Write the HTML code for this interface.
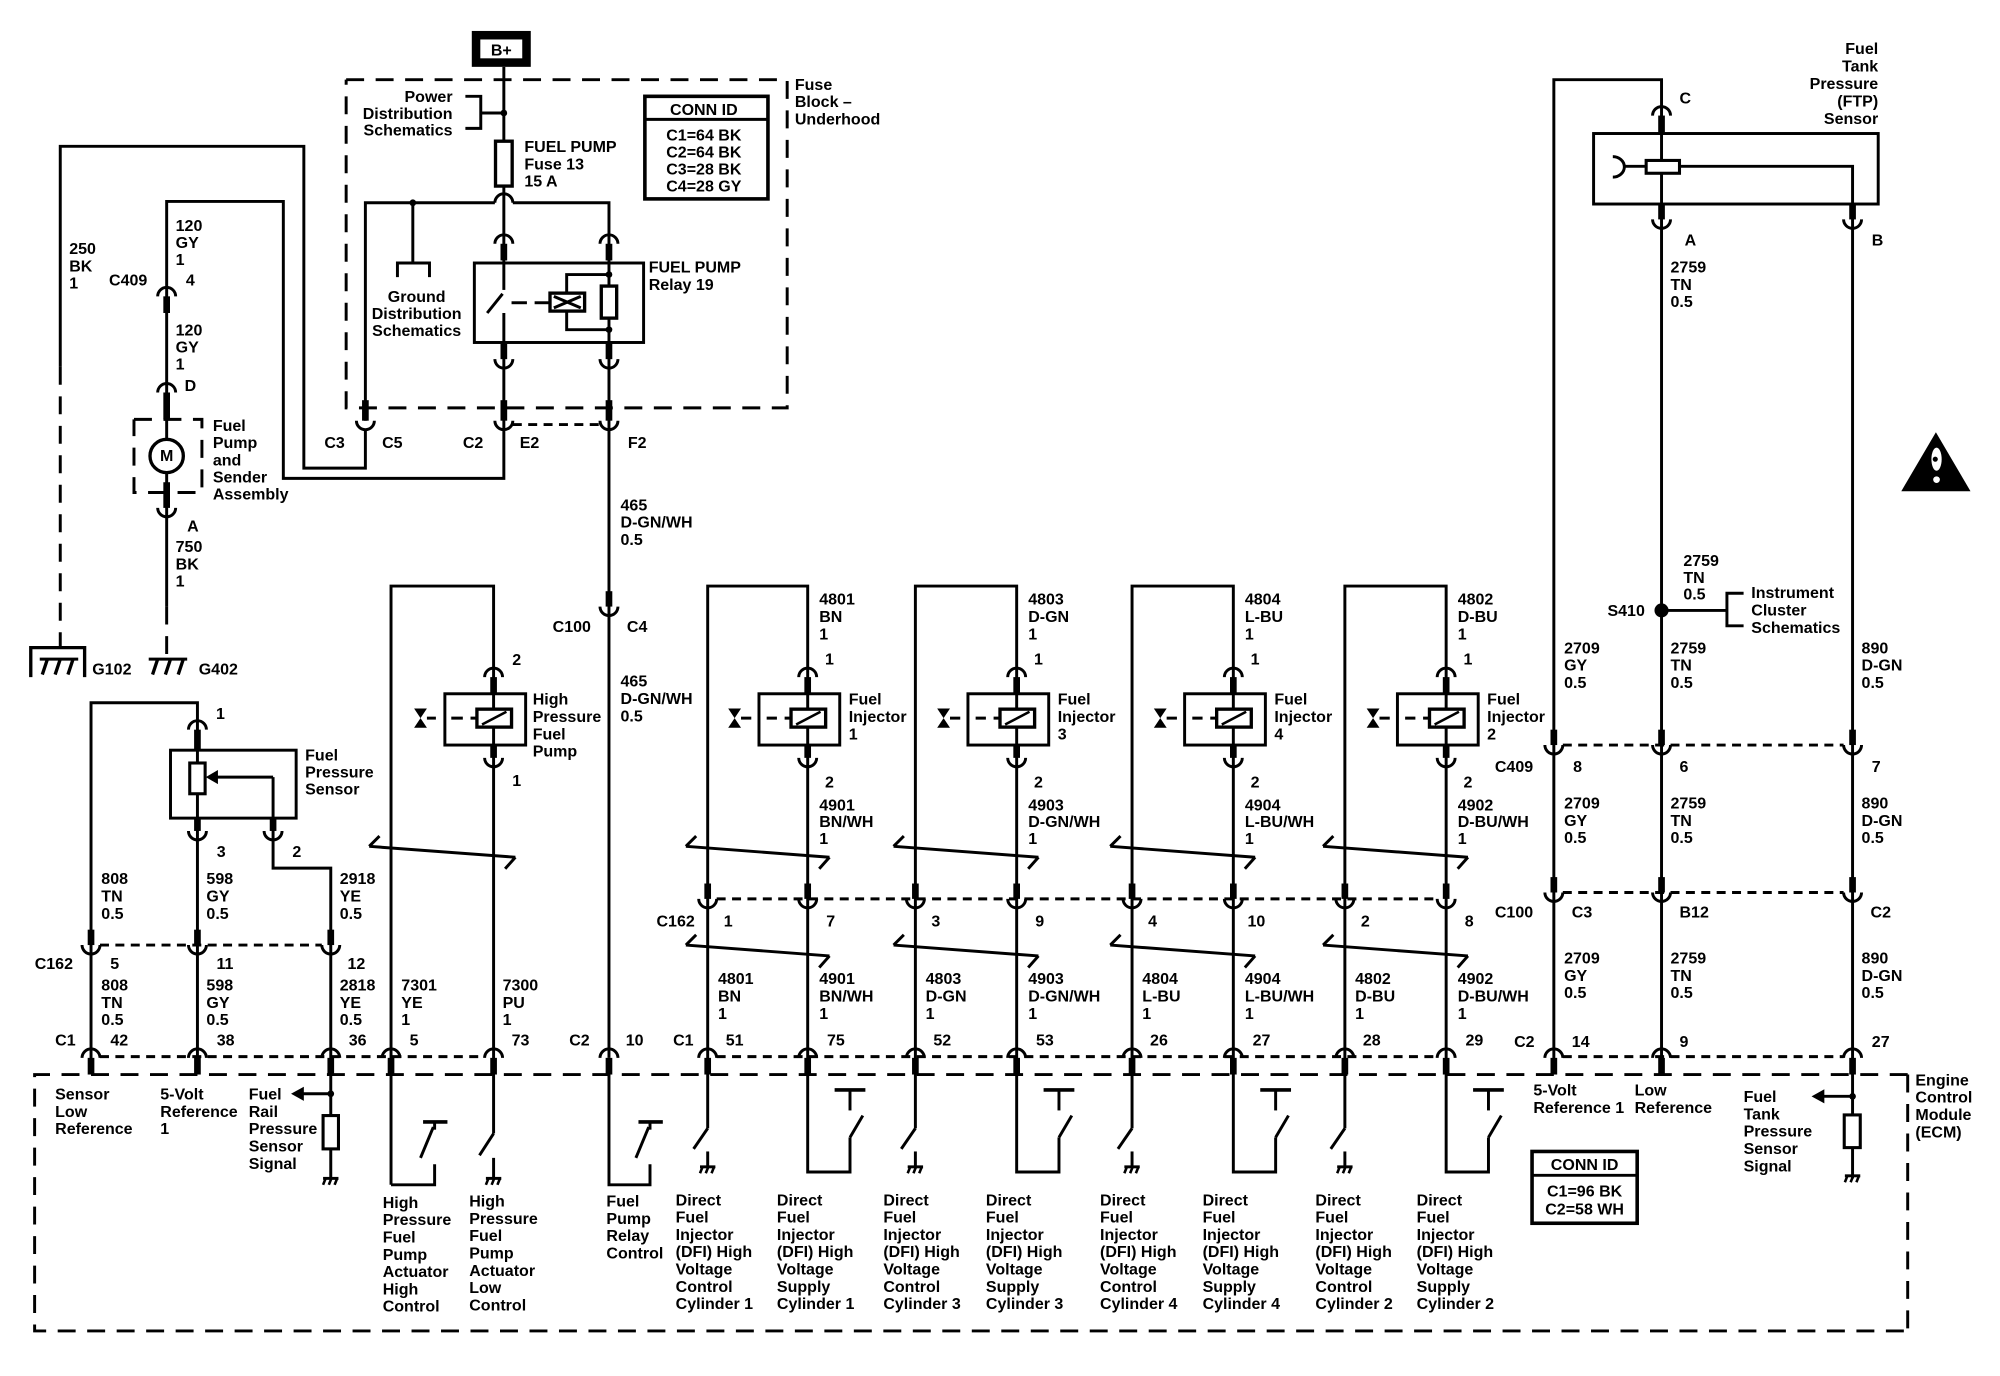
<!DOCTYPE html>
<html><head><meta charset="utf-8"><style>
html,body{margin:0;padding:0;background:#fff}
svg{display:block}
text{font-family:"Liberation Sans",Arial,sans-serif;font-size:12.5px;font-weight:bold;fill:#000}
.m{text-anchor:middle}.e{text-anchor:end}
</style></head><body>
<svg id="svg" width="2000" height="1376" viewBox="0 0 1560 1073" xmlns="http://www.w3.org/2000/svg">
<rect width="1560" height="1073" fill="#fff"/>
<g id="s" fill="none" stroke="#000" stroke-width="2.3" stroke-linejoin="miter"></g>
<g id="t">
<text x="391" y="43" class="m" font-size="13">B+</text>
<text x="353" y="79.5" class="e"><tspan x="353">Power</tspan><tspan x="353" dy="13">Distribution</tspan><tspan x="353" dy="13">Schematics</tspan></text>
<text x="409" y="118.5"><tspan x="409">FUEL PUMP</tspan><tspan x="409" dy="13.5">Fuse 13</tspan><tspan x="409" dy="13.5">15 A</tspan></text>
<text x="549" y="89.5" class="m">CONN ID</text>
<text x="549" y="109.5" class="m"><tspan x="549">C1=64 BK</tspan><tspan x="549" dy="13.2">C2=64 BK</tspan><tspan x="549" dy="13.2">C3=28 BK</tspan><tspan x="549" dy="13.2">C4=28 GY</tspan></text>
<text x="620" y="70"><tspan x="620">Fuse</tspan><tspan x="620" dy="13.5">Block –</tspan><tspan x="620" dy="13.5">Underhood</tspan></text>
<text x="506" y="212.5"><tspan x="506">FUEL PUMP</tspan><tspan x="506" dy="13.5">Relay 19</tspan></text>
<text x="325" y="235.5" class="m"><tspan x="325">Ground</tspan><tspan x="325" dy="13.3">Distribution</tspan><tspan x="325" dy="13.3">Schematics</tspan></text>
<text x="261" y="349.5" class="m">C3</text><text x="306" y="349.5" class="m">C5</text>
<text x="369" y="349.5" class="m">C2</text><text x="413" y="349.5" class="m">E2</text>
<text x="497" y="349.5" class="m">F2</text>
<text x="54" y="198"><tspan x="54">250</tspan><tspan x="54" dy="13.5">BK</tspan><tspan x="54" dy="13.5">1</tspan></text>
<text x="137" y="180"><tspan x="137">120</tspan><tspan x="137" dy="13.3">GY</tspan><tspan x="137" dy="13.3">1</tspan></text>
<text x="100" y="222.5" class="m">C409</text><text x="145" y="222.5">4</text>
<text x="137" y="261.5"><tspan x="137">120</tspan><tspan x="137" dy="13.3">GY</tspan><tspan x="137" dy="13.3">1</tspan></text>
<text x="144" y="305">D</text>
<text x="166" y="336"><tspan x="166">Fuel</tspan><tspan x="166" dy="13.4">Pump</tspan><tspan x="166" dy="13.4">and</tspan><tspan x="166" dy="13.4">Sender</tspan><tspan x="166" dy="13.4">Assembly</tspan></text>
<text x="130" y="359.5" class="m" font-size="12">M</text>
<text x="146" y="414.5">A</text>
<text x="137" y="430.5"><tspan x="137">750</tspan><tspan x="137" dy="13.5">BK</tspan><tspan x="137" dy="13.5">1</tspan></text>
<text x="72" y="526">G102</text><text x="155" y="526">G402</text>
<text x="484" y="398"><tspan x="484">465</tspan><tspan x="484" dy="13.5">D-GN/WH</tspan><tspan x="484" dy="13.5">0.5</tspan></text>
<text x="446" y="493" class="m">C100</text><text x="497" y="493" class="m">C4</text>
<text x="484" y="535.5"><tspan x="484">465</tspan><tspan x="484" dy="13.5">D-GN/WH</tspan><tspan x="484" dy="13.5">0.5</tspan></text>
<text x="172" y="560.5" class="m">1</text>
<text x="238" y="593"><tspan x="238">Fuel</tspan><tspan x="238" dy="13.3">Pressure</tspan><tspan x="238" dy="13.3">Sensor</tspan></text>
<text x="172.5" y="668.5" class="m">3</text><text x="231.5" y="668.5" class="m">2</text>
<text x="79" y="689.5"><tspan x="79">808</tspan><tspan x="79" dy="13.5">TN</tspan><tspan x="79" dy="13.5">0.5</tspan></text>
<text x="161" y="689.5"><tspan x="161">598</tspan><tspan x="161" dy="13.5">GY</tspan><tspan x="161" dy="13.5">0.5</tspan></text>
<text x="265" y="689.5"><tspan x="265">2918</tspan><tspan x="265" dy="13.5">YE</tspan><tspan x="265" dy="13.5">0.5</tspan></text>
<text x="42" y="755.5" class="m">C162</text><text x="89.5" y="755.5" class="m">5</text><text x="175.5" y="755.5" class="m">11</text><text x="278" y="755.5" class="m">12</text>
<text x="79" y="772.5"><tspan x="79">808</tspan><tspan x="79" dy="13.5">TN</tspan><tspan x="79" dy="13.5">0.5</tspan></text>
<text x="161" y="772.5"><tspan x="161">598</tspan><tspan x="161" dy="13.5">GY</tspan><tspan x="161" dy="13.5">0.5</tspan></text>
<text x="265" y="772.5"><tspan x="265">2818</tspan><tspan x="265" dy="13.5">YE</tspan><tspan x="265" dy="13.5">0.5</tspan></text>
<text x="313" y="772.5"><tspan x="313">7301</tspan><tspan x="313" dy="13.5">YE</tspan><tspan x="313" dy="13.5">1</tspan></text>
<text x="392" y="772.5"><tspan x="392">7300</tspan><tspan x="392" dy="13.5">PU</tspan><tspan x="392" dy="13.5">1</tspan></text>
<text x="51" y="815.5" class="m">C1</text><text x="93" y="815.5" class="m">42</text><text x="176" y="815.5" class="m">38</text><text x="279" y="815.5" class="m">36</text><text x="323" y="815.5" class="m">5</text><text x="406" y="815.5" class="m">73</text><text x="452" y="815.5" class="m">C2</text><text x="495" y="815.5" class="m">10</text>
<text x="403" y="518.5" class="m">2</text><text x="403" y="613" class="m">1</text>
<text x="415.5" y="549.5"><tspan x="415.5">High</tspan><tspan x="415.5" dy="13.5">Pressure</tspan><tspan x="415.5" dy="13.5">Fuel</tspan><tspan x="415.5" dy="13.5">Pump</tspan></text>

<text x="639" y="471.5"><tspan x="639">4801</tspan><tspan x="639" dy="13.5">BN</tspan><tspan x="639" dy="13.5">1</tspan></text>
<text x="647" y="518" class="m">1</text><text x="647" y="614" class="m">2</text>
<text x="662" y="549.5"><tspan x="662">Fuel</tspan><tspan x="662" dy="13.5">Injector</tspan><tspan x="662" dy="13.5">1</tspan></text>
<text x="639" y="632"><tspan x="639">4901</tspan><tspan x="639" dy="13">BN/WH</tspan><tspan x="639" dy="13">1</tspan></text>
<text x="568" y="722.5" class="m">1</text><text x="648" y="722.5" class="m">7</text>
<text x="560" y="767.5"><tspan x="560">4801</tspan><tspan x="560" dy="13.5">BN</tspan><tspan x="560" dy="13.5">1</tspan></text>
<text x="639" y="767.5"><tspan x="639">4901</tspan><tspan x="639" dy="13.5">BN/WH</tspan><tspan x="639" dy="13.5">1</tspan></text>
<text x="533" y="815.5" class="m">C1</text><text x="573" y="815.5" class="m">51</text><text x="652" y="815.5" class="m">75</text>
<text x="527" y="722.5" class="m">C162</text>
<text x="802" y="471.5"><tspan x="802">4803</tspan><tspan x="802" dy="13.5">D-GN</tspan><tspan x="802" dy="13.5">1</tspan></text>
<text x="810" y="518" class="m">1</text><text x="810" y="614" class="m">2</text>
<text x="825" y="549.5"><tspan x="825">Fuel</tspan><tspan x="825" dy="13.5">Injector</tspan><tspan x="825" dy="13.5">3</tspan></text>
<text x="802" y="632"><tspan x="802">4903</tspan><tspan x="802" dy="13">D-GN/WH</tspan><tspan x="802" dy="13">1</tspan></text>
<text x="730" y="722.5" class="m">3</text><text x="811" y="722.5" class="m">9</text>
<text x="722" y="767.5"><tspan x="722">4803</tspan><tspan x="722" dy="13.5">D-GN</tspan><tspan x="722" dy="13.5">1</tspan></text>
<text x="802" y="767.5"><tspan x="802">4903</tspan><tspan x="802" dy="13.5">D-GN/WH</tspan><tspan x="802" dy="13.5">1</tspan></text>
<text x="735" y="815.5" class="m">52</text><text x="815" y="815.5" class="m">53</text>
<text x="971" y="471.5"><tspan x="971">4804</tspan><tspan x="971" dy="13.5">L-BU</tspan><tspan x="971" dy="13.5">1</tspan></text>
<text x="979" y="518" class="m">1</text><text x="979" y="614" class="m">2</text>
<text x="994" y="549.5"><tspan x="994">Fuel</tspan><tspan x="994" dy="13.5">Injector</tspan><tspan x="994" dy="13.5">4</tspan></text>
<text x="971" y="632"><tspan x="971">4904</tspan><tspan x="971" dy="13">L-BU/WH</tspan><tspan x="971" dy="13">1</tspan></text>
<text x="899" y="722.5" class="m">4</text><text x="980" y="722.5" class="m">10</text>
<text x="891" y="767.5"><tspan x="891">4804</tspan><tspan x="891" dy="13.5">L-BU</tspan><tspan x="891" dy="13.5">1</tspan></text>
<text x="971" y="767.5"><tspan x="971">4904</tspan><tspan x="971" dy="13.5">L-BU/WH</tspan><tspan x="971" dy="13.5">1</tspan></text>
<text x="904" y="815.5" class="m">26</text><text x="984" y="815.5" class="m">27</text>
<text x="1137" y="471.5"><tspan x="1137">4802</tspan><tspan x="1137" dy="13.5">D-BU</tspan><tspan x="1137" dy="13.5">1</tspan></text>
<text x="1145" y="518" class="m">1</text><text x="1145" y="614" class="m">2</text>
<text x="1160" y="549.5"><tspan x="1160">Fuel</tspan><tspan x="1160" dy="13.5">Injector</tspan><tspan x="1160" dy="13.5">2</tspan></text>
<text x="1137" y="632"><tspan x="1137">4902</tspan><tspan x="1137" dy="13">D-BU/WH</tspan><tspan x="1137" dy="13">1</tspan></text>
<text x="1065" y="722.5" class="m">2</text><text x="1146" y="722.5" class="m">8</text>
<text x="1057" y="767.5"><tspan x="1057">4802</tspan><tspan x="1057" dy="13.5">D-BU</tspan><tspan x="1057" dy="13.5">1</tspan></text>
<text x="1137" y="767.5"><tspan x="1137">4902</tspan><tspan x="1137" dy="13.5">D-BU/WH</tspan><tspan x="1137" dy="13.5">1</tspan></text>
<text x="1070" y="815.5" class="m">28</text><text x="1150" y="815.5" class="m">29</text>

<text x="43" y="857.5"><tspan x="43">Sensor</tspan><tspan x="43" dy="13.5">Low</tspan><tspan x="43" dy="13.5">Reference</tspan></text>
<text x="125" y="857.5"><tspan x="125">5-Volt</tspan><tspan x="125" dy="13.5">Reference</tspan><tspan x="125" dy="13.5">1</tspan></text>
<text x="194" y="857.5"><tspan x="194">Fuel</tspan><tspan x="194" dy="13.5">Rail</tspan><tspan x="194" dy="13.5">Pressure</tspan><tspan x="194" dy="13.5">Sensor</tspan><tspan x="194" dy="13.5">Signal</tspan></text>
<text x="298.5" y="942"><tspan x="298.5">High</tspan><tspan x="298.5" dy="13.5">Pressure</tspan><tspan x="298.5" dy="13.5">Fuel</tspan><tspan x="298.5" dy="13.5">Pump</tspan><tspan x="298.5" dy="13.5">Actuator</tspan><tspan x="298.5" dy="13.5">High</tspan><tspan x="298.5" dy="13.5">Control</tspan></text>
<text x="366" y="941"><tspan x="366">High</tspan><tspan x="366" dy="13.5">Pressure</tspan><tspan x="366" dy="13.5">Fuel</tspan><tspan x="366" dy="13.5">Pump</tspan><tspan x="366" dy="13.5">Actuator</tspan><tspan x="366" dy="13.5">Low</tspan><tspan x="366" dy="13.5">Control</tspan></text>
<text x="473" y="941"><tspan x="473">Fuel</tspan><tspan x="473" dy="13.5">Pump</tspan><tspan x="473" dy="13.5">Relay</tspan><tspan x="473" dy="13.5">Control</tspan></text>
<text x="527" y="940"><tspan x="527">Direct</tspan><tspan x="527" dy="13.5">Fuel</tspan><tspan x="527" dy="13.5">Injector</tspan><tspan x="527" dy="13.5">(DFI) High</tspan><tspan x="527" dy="13.5">Voltage</tspan><tspan x="527" dy="13.5">Control</tspan><tspan x="527" dy="13.5">Cylinder 1</tspan></text>
<text x="606" y="940"><tspan x="606">Direct</tspan><tspan x="606" dy="13.5">Fuel</tspan><tspan x="606" dy="13.5">Injector</tspan><tspan x="606" dy="13.5">(DFI) High</tspan><tspan x="606" dy="13.5">Voltage</tspan><tspan x="606" dy="13.5">Supply</tspan><tspan x="606" dy="13.5">Cylinder 1</tspan></text>
<text x="689" y="940"><tspan x="689">Direct</tspan><tspan x="689" dy="13.5">Fuel</tspan><tspan x="689" dy="13.5">Injector</tspan><tspan x="689" dy="13.5">(DFI) High</tspan><tspan x="689" dy="13.5">Voltage</tspan><tspan x="689" dy="13.5">Control</tspan><tspan x="689" dy="13.5">Cylinder 3</tspan></text>
<text x="769" y="940"><tspan x="769">Direct</tspan><tspan x="769" dy="13.5">Fuel</tspan><tspan x="769" dy="13.5">Injector</tspan><tspan x="769" dy="13.5">(DFI) High</tspan><tspan x="769" dy="13.5">Voltage</tspan><tspan x="769" dy="13.5">Supply</tspan><tspan x="769" dy="13.5">Cylinder 3</tspan></text>
<text x="858" y="940"><tspan x="858">Direct</tspan><tspan x="858" dy="13.5">Fuel</tspan><tspan x="858" dy="13.5">Injector</tspan><tspan x="858" dy="13.5">(DFI) High</tspan><tspan x="858" dy="13.5">Voltage</tspan><tspan x="858" dy="13.5">Control</tspan><tspan x="858" dy="13.5">Cylinder 4</tspan></text>
<text x="938" y="940"><tspan x="938">Direct</tspan><tspan x="938" dy="13.5">Fuel</tspan><tspan x="938" dy="13.5">Injector</tspan><tspan x="938" dy="13.5">(DFI) High</tspan><tspan x="938" dy="13.5">Voltage</tspan><tspan x="938" dy="13.5">Supply</tspan><tspan x="938" dy="13.5">Cylinder 4</tspan></text>
<text x="1026" y="940"><tspan x="1026">Direct</tspan><tspan x="1026" dy="13.5">Fuel</tspan><tspan x="1026" dy="13.5">Injector</tspan><tspan x="1026" dy="13.5">(DFI) High</tspan><tspan x="1026" dy="13.5">Voltage</tspan><tspan x="1026" dy="13.5">Control</tspan><tspan x="1026" dy="13.5">Cylinder 2</tspan></text>
<text x="1105" y="940"><tspan x="1105">Direct</tspan><tspan x="1105" dy="13.5">Fuel</tspan><tspan x="1105" dy="13.5">Injector</tspan><tspan x="1105" dy="13.5">(DFI) High</tspan><tspan x="1105" dy="13.5">Voltage</tspan><tspan x="1105" dy="13.5">Supply</tspan><tspan x="1105" dy="13.5">Cylinder 2</tspan></text>

<text x="1465" y="42" class="e"><tspan x="1465">Fuel</tspan><tspan x="1465" dy="13.6">Tank</tspan><tspan x="1465" dy="13.6">Pressure</tspan><tspan x="1465" dy="13.6">(FTP)</tspan><tspan x="1465" dy="13.6">Sensor</tspan></text>
<text x="1310" y="80.5">C</text><text x="1314" y="191.5">A</text><text x="1460" y="191.5">B</text>
<text x="1303" y="212.5"><tspan x="1303">2759</tspan><tspan x="1303" dy="13.5">TN</tspan><tspan x="1303" dy="13.5">0.5</tspan></text>
<text x="1313" y="441.5"><tspan x="1313">2759</tspan><tspan x="1313" dy="13">TN</tspan><tspan x="1313" dy="13">0.5</tspan></text>
<text x="1283" y="480.5" class="e">S410</text>
<text x="1366" y="466.5"><tspan x="1366">Instrument</tspan><tspan x="1366" dy="13.5">Cluster</tspan><tspan x="1366" dy="13.5">Schematics</tspan></text>
<text x="1220" y="509.5"><tspan x="1220">2709</tspan><tspan x="1220" dy="13.5">GY</tspan><tspan x="1220" dy="13.5">0.5</tspan></text>
<text x="1303" y="509.5"><tspan x="1303">2759</tspan><tspan x="1303" dy="13.5">TN</tspan><tspan x="1303" dy="13.5">0.5</tspan></text>
<text x="1452" y="509.5"><tspan x="1452">890</tspan><tspan x="1452" dy="13.5">D-GN</tspan><tspan x="1452" dy="13.5">0.5</tspan></text>
<text x="1166" y="602">C409</text><text x="1227" y="602">8</text><text x="1310" y="602">6</text><text x="1460" y="602">7</text>
<text x="1220" y="630.5"><tspan x="1220">2709</tspan><tspan x="1220" dy="13.5">GY</tspan><tspan x="1220" dy="13.5">0.5</tspan></text>
<text x="1303" y="630.5"><tspan x="1303">2759</tspan><tspan x="1303" dy="13.5">TN</tspan><tspan x="1303" dy="13.5">0.5</tspan></text>
<text x="1452" y="630.5"><tspan x="1452">890</tspan><tspan x="1452" dy="13.5">D-GN</tspan><tspan x="1452" dy="13.5">0.5</tspan></text>
<text x="1166" y="715.5">C100</text><text x="1226" y="715.5">C3</text><text x="1310" y="715.5">B12</text><text x="1459" y="715.5">C2</text>
<text x="1220" y="751.5"><tspan x="1220">2709</tspan><tspan x="1220" dy="13.5">GY</tspan><tspan x="1220" dy="13.5">0.5</tspan></text>
<text x="1303" y="751.5"><tspan x="1303">2759</tspan><tspan x="1303" dy="13.5">TN</tspan><tspan x="1303" dy="13.5">0.5</tspan></text>
<text x="1452" y="751.5"><tspan x="1452">890</tspan><tspan x="1452" dy="13.5">D-GN</tspan><tspan x="1452" dy="13.5">0.5</tspan></text>
<text x="1181" y="816.5">C2</text><text x="1226" y="816.5">14</text><text x="1310" y="816.5">9</text><text x="1460" y="816.5">27</text>
<text x="1196" y="854.5"><tspan x="1196">5-Volt</tspan><tspan x="1196" dy="13.5">Reference 1</tspan></text>
<text x="1275" y="854.5"><tspan x="1275">Low</tspan><tspan x="1275" dy="13.5">Reference</tspan></text>
<text x="1360" y="859.5"><tspan x="1360">Fuel</tspan><tspan x="1360" dy="13.5">Tank</tspan><tspan x="1360" dy="13.5">Pressure</tspan><tspan x="1360" dy="13.5">Sensor</tspan><tspan x="1360" dy="13.5">Signal</tspan></text>
<text x="1236" y="912.5" class="m">CONN ID</text>
<text x="1236" y="933" class="m"><tspan x="1236">C1=96 BK</tspan><tspan x="1236" dy="14">C2=58 WH</tspan></text>
<text x="1494" y="846.5"><tspan x="1494">Engine</tspan><tspan x="1494" dy="13.5">Control</tspan><tspan x="1494" dy="13.5">Module</tspan><tspan x="1494" dy="13.5">(ECM)</tspan></text>
</g>
<script>
(function(){
var S=document.getElementById('s'),NS='http://www.w3.org/2000/svg';
function el(t,a){var e=document.createElementNS(NS,t);for(var k in a)e.setAttribute(k,a[k]);S.appendChild(e);return e;}
function L(p,o){var a={points:p.join(' ')};if(o)for(var k in o)a[k]=o[k];return el('polyline',a);}
function D(p){return L(p,{'stroke-dasharray':'14 9'});}
function d(p){return L(p,{'stroke-dasharray':'7 5'});}
function R(x,y,w,h,f,sw){return el('rect',{x:x,y:y,width:w,height:h,fill:f||'none','stroke-width':sw||2.3});}
function F(x,y,w,h){return el('rect',{x:x,y:y,width:w,height:h,fill:'#000',stroke:'none'});}
function P(dd,o){var a={d:dd};if(o)for(var k in o)a[k]=o[k];return el('path',a);}
function dot(x,y,r){return el('circle',{cx:x,cy:y,r:r||2.6,fill:'#000',stroke:'none'});}
function cup(x,yt,pl){pl=pl||12;F(x-2.6,yt-pl,5.2,pl);P('M'+(x-7)+' '+yt+' A7 7 0 0 0 '+(x+7)+' '+yt);}
function cap(x,yb,pl){pl=pl||13;F(x-2.6,yb,5.2,pl);P('M'+(x-7)+' '+yb+' A7 7 0 0 1 '+(x+7)+' '+yb);}
function gnd(x,y){L([x-6,y,x+6,y]);for(var i=0;i<3;i++)L([x-4+4.5*i,y,x-6+4.5*i,y+5],{'stroke-width':2});}
function brk(a,b,y){L([a-17,y,b+17,y+8.5]);L([a-9,y-8,a-17,y]);L([b+17,y+8.5,b+9,y+17.5]);}
function bow(x,y){el('polygon',{points:[x-5,y-7.5,x+5,y-7.5,x,y,x-5,y+7.5,x+5,y+7.5,x,y].join(' '),fill:'#000',stroke:'none'});}
function coil(x,y){R(x-13,y-7,27,14,'#fff',2.6);L([x-9,y+5,x+10,y-5],{'stroke-width':2});}
F(368,24,46,28);R(373.5,29.5,35,17,'#fff',0);
L([393,52,393,205]);
R(386.5,110,13,35,'#fff',2.6);
dot(393,88);L([393,88,375,88]);L([363,75,375,75,375,100,363,100]);
L([285,328,285,158,386,158]);P('M386 158 A7 7 0 0 1 400 158');L([400,158,475,158,475,825]);
dot(322,158);L([322,158,322,205]);L([310,216,310,205,335,205,335,216]);
cap(393,190);cap(475,190);
R(370,205,132,62,'#fff');
L([393,205,393,226]);L([380,244,392,229]);L([393,244,393,373,221,373,221,157,130,157,130,473]);
L([475,205,475,267]);
L([399,236,411,236]);L([417,236,429,236]);
R(429,228.5,27,14,'#fff',2.6);L([432,231,453,240]);L([432,240,453,231]);
L([442,228.5,442,214,475,214]);L([442,242.5,442,257,475,257]);
R(469,223,12,25,'#fff',2.6);dot(475,214);dot(475,257);
cup(393,280);cup(475,280);
D([270,62,614,62,614,318,270,318,270,62]);
R(503,75,96,80,'none',2.8);L([503,93,599,93]);
cup(285,328,16);cup(393,328,16);cup(475,328,16);d([400,331,468,331]);
cup(475,473);
L([285,335,285,365,237,365,237,114,47,114,47,286]);
D([47,286,47,505]);
L([24,528,24,505,66,505,66,528],{'stroke-width':2.6});L([31,514,61,514]);
for(var i=0;i<3;i++)L([37+10*i,514,33+10*i,526],{'stroke-width':2.6});
D([130,473,130,514]);L([116,514,146,514]);
for(var i=0;i<3;i++)L([123+10*i,514,119+10*i,526],{'stroke-width':2.6});
cap(130,231);cap(130,306,21);
D([104.5,327,157.5,327,157.5,384,104.5,384,104.5,327]);
F(127.4,376,5.2,20);cup(130,396,0.1);
el('circle',{cx:130,cy:355.5,r:13,fill:'#fff','stroke-width':2.6});
L([71,838,71,548,154,548,154,838]);
L([213,606,213,677,258,677,258,919]);
cap(154,569,16);
R(133,585,98,53);R(148,595,12,24,'#fff',2.4);
L([213,606,169,606]);el('polygon',{points:'160.5,606 170,600.5 170,611.5',fill:'#000',stroke:'none'});
cup(154,648,10);cup(213,648,10);
cup(71,737);cup(154,737);cup(258,737);d([78,737,251,737]);
L([305,924,305,457,385,457,385,884]);
cap(385,528);R(347,541,63,40);coil(385,560);bow(328,560);L([333,560,340,560]);L([352,560,372,560],{'stroke-dasharray':'9 6'});
cup(385,591,10);brk(305,385,660);
[[552,630],[714,793],[883,962],[1049,1128]].forEach(function(g){
  var Lx=g[0],Rx=g[1];
  L([Lx,880,Lx,457,Rx,457,Rx,914,Rx+33,914,Rx+33,887]);
  cap(Rx,528);R(Rx-38,541,63,40);coil(Rx,560);bow(Rx-57,560);L([Rx-52,560,Rx-44,560]);L([Rx-32,560,Rx-13,560],{'stroke-dasharray':'8 6'});
  cup(Rx,591,10);brk(Lx,Rx,660);brk(Lx,Rx,737);
  cup(Lx,701);cup(Rx,701);
  L([Lx,880,Lx-11,896]);L([Lx,898,Lx,910]);gnd(Lx,910);
  L([Rx+33,887,Rx+43,870]);L([Rx+33,850,Rx+33,866]);L([Rx+21,850,Rx+45,850],{'stroke-width':2.8});
});
d([559,701,1121,701]);
[71,154,258,305,385,475,552,630,714,793,883,962,1049,1128,1212,1296,1445].forEach(function(x){cap(x,825);});
d([78,824,378,824]);d([559,824,1121,824]);d([1219,824,1438,824]);
D([1488,838,27,838,27,1038,1488,1038]);D([1488,838,1488,1038]);
dot(258,853);L([258,853,236,853]);el('polygon',{points:'227,853 237,847.5 237,858.5',fill:'#000',stroke:'none'});
R(252,870,12,26,'#fff',2.4);gnd(258,919);
L([305,924,339,924,339,908]);L([328,903,338,879]);L([339,875,339,881]);L([330,875,349,875],{'stroke-width':2.8});
L([385,884,374,901]);L([385,903,385,919]);gnd(385,919);
L([475,825,475,924,507,924,507,908]);L([496,903,506,879]);L([507,875,507,881]);L([498,875,517,875],{'stroke-width':2.8});
L([1212,838,1212,62,1296,62,1296,838]);
cap(1296,90);
R(1243,104,222,55);
P('M1258 122 A9 8 0 0 1 1258 138');L([1266,129.6,1284,129.6]);
R(1284,125,26,10,'#fff',2.4);L([1310,129.6,1445,129.6,1445,919]);
cup(1296,171);cup(1445,171);
dot(1296,476,5.5);L([1296,476,1347,476]);L([1360,462.6,1347,462.6,1347,488,1360,488]);
cup(1212,581);cup(1296,581);cup(1445,581);d([1219,581,1438,581]);
cup(1212,696);cup(1296,696);cup(1445,696);d([1219,696,1438,696]);
dot(1445,855);L([1445,855,1422,855]);el('polygon',{points:'1413,855 1423,849.5 1423,860.5',fill:'#000',stroke:'none'});
R(1438.5,869.5,12.5,25.5,'#fff',2.4);gnd(1445,917);
R(1195,898,82,56,'none',2.8);L([1195,916.6,1277,916.6]);
el('polygon',{points:'1510,337 1537,383 1483,383',fill:'#000',stroke:'none'});
el('ellipse',{cx:1510.5,cy:358,rx:4,ry:9,fill:'#fff',stroke:'none'});
el('circle',{cx:1510.5,cy:374,r:2.6,fill:'#fff',stroke:'none'});
el('circle',{cx:1509.5,cy:358,r:2,fill:'#000',stroke:'none'});
})();
</script>
</svg>
</body></html>
